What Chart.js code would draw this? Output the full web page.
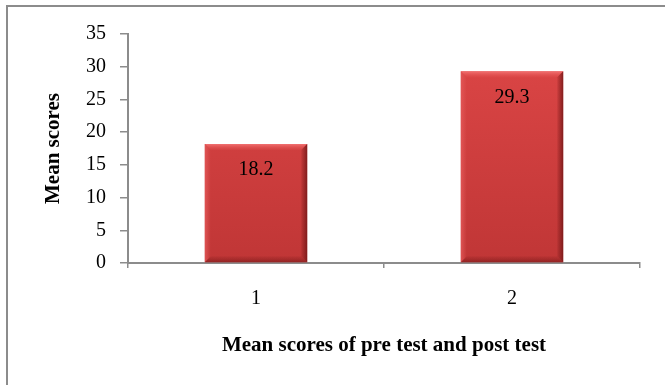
<!DOCTYPE html>
<html>
<head>
<meta charset="utf-8">
<script src="https://cdn.jsdelivr.net/npm/chart.js@4.4.1/dist/chart.umd.min.js"></script>
<style>
  html, body { margin: 0; padding: 0; background: #fff; overflow: hidden; }
  #frame { position: absolute; left: 6px; top: 5px; width: 720px; height: 440px;
           border-left: 2px solid #8c8c8c; border-top: 2px solid #8c8c8c; box-sizing: border-box; }
  #wrap { position: absolute; left: 0; top: 0; width: 665px; height: 385px; }
</style>
</head>
<body>
<div id="frame"></div>
<div id="wrap"><canvas id="c" width="665" height="385"></canvas></div>
<script>
// Pre test / post test mean scores
const categories = ['1', '2'];
const meanScores = [18.2, 29.3];
const yTicks = [0, 5, 10, 15, 20, 25, 30, 35];

const serif = "'Liberation Serif', 'Times New Roman', serif";
const axisGray = '#8c8c8c';

// Bevelled bar faces and value labels drawn on top of the library's bar elements
const bevelPlugin = {
  id: 'bevel',
  afterDatasetsDraw(chart) {
    const ctx = chart.ctx;
    const meta = chart.getDatasetMeta(0);
    meta.data.forEach((bar, i) => {
      const p = bar.getProps(['x', 'y', 'base', 'width'], true);
      const l = p.x - p.width / 2, r = p.x + p.width / 2, t = p.y, b = p.base;
      const e = 6;
      ctx.save();
      // top edge highlight
      let g = ctx.createLinearGradient(0, t, 0, t + e);
      g.addColorStop(0, 'rgba(245,120,120,0.9)');
      g.addColorStop(1, 'rgba(230,80,80,0.2)');
      ctx.fillStyle = g;
      ctx.beginPath();
      ctx.moveTo(l, t); ctx.lineTo(r, t); ctx.lineTo(r - e, t + e); ctx.lineTo(l + e, t + e); ctx.closePath();
      ctx.fill();
      // left edge, slightly lighter
      g = ctx.createLinearGradient(l, 0, l + e, 0);
      g.addColorStop(0, 'rgba(228,90,90,0.8)');
      g.addColorStop(1, 'rgba(228,90,90,0.0)');
      ctx.fillStyle = g;
      ctx.beginPath();
      ctx.moveTo(l, t); ctx.lineTo(l + e, t + e); ctx.lineTo(l + e, b - e); ctx.lineTo(l, b); ctx.closePath();
      ctx.fill();
      // right edge, darker
      g = ctx.createLinearGradient(r - e, 0, r, 0);
      g.addColorStop(0, 'rgba(120,25,25,0.15)');
      g.addColorStop(1, 'rgba(110,20,20,0.8)');
      ctx.fillStyle = g;
      ctx.beginPath();
      ctx.moveTo(r, t); ctx.lineTo(r, b); ctx.lineTo(r - e, b - e); ctx.lineTo(r - e, t + e); ctx.closePath();
      ctx.fill();
      // bottom edge, darker
      g = ctx.createLinearGradient(0, b - e, 0, b);
      g.addColorStop(0, 'rgba(120,25,25,0.1)');
      g.addColorStop(1, 'rgba(110,20,20,0.55)');
      ctx.fillStyle = g;
      ctx.beginPath();
      ctx.moveTo(l, b); ctx.lineTo(r, b); ctx.lineTo(r - e, b - e); ctx.lineTo(l + e, b - e); ctx.closePath();
      ctx.fill();
      // value label
      ctx.fillStyle = '#000';
      ctx.font = '20px ' + serif;
      ctx.textAlign = 'center';
      ctx.textBaseline = 'middle';
      ctx.fillText(String(meanScores[i]), p.x, t + 26);
      ctx.restore();
    });
  }
};

const ctx = document.getElementById('c').getContext('2d');
new Chart(ctx, {
  type: 'bar',
  data: {
    labels: categories,
    datasets: [{
      data: meanScores,
      backgroundColor: (c) => {
        const area = c.chart.chartArea;
        if (!area) return '#d04040';
        const g = c.chart.ctx.createLinearGradient(0, area.top, 0, area.bottom);
        g.addColorStop(0, '#de4747');
        g.addColorStop(1, '#c03636');
        return g;
      },
      borderWidth: 0,
      barPercentage: 0.40,
      categoryPercentage: 1.0
    }]
  },
  options: {
    responsive: false,
    animation: false,
    events: [],
    layout: { padding: { top: 34, right: 25, left: 0, bottom: 0 } },
    plugins: { legend: { display: false }, tooltip: { enabled: false } },
    scales: {
      x: {
        grid: { drawOnChartArea: false, drawTicks: true, tickLength: 5, color: axisGray, lineWidth: 1.5, offset: true },
        border: { display: true, color: axisGray, width: 2 },
        ticks: { color: '#000', font: { family: serif, size: 20 }, padding: 19 },
        title: { display: true, text: 'Mean scores of pre test and post test', color: '#000',
                 font: { family: serif, size: 21, weight: 'bold' }, padding: { bottom: 27 } },
        afterFit: (s) => { s.height = 122; }
      },
      y: {
        min: 0, max: 35,
        afterBuildTicks: (s) => { s.ticks = yTicks.map(v => ({ value: v })); },
        grid: { drawOnChartArea: false, drawTicks: true, tickLength: 8, color: axisGray, lineWidth: 1.5 },
        border: { display: true, color: axisGray, width: 2 },
        ticks: { color: '#000', font: { family: serif, size: 20 }, padding: 14 },
        title: { display: true, text: 'Mean scores', color: '#000',
                 font: { family: serif, size: 21, weight: 'bold' }, padding: { top: 41 } },
        afterFit: (s) => { s.width = 128; }
      }
    }
  },
  plugins: [bevelPlugin]
});
</script>
</body>
</html>
